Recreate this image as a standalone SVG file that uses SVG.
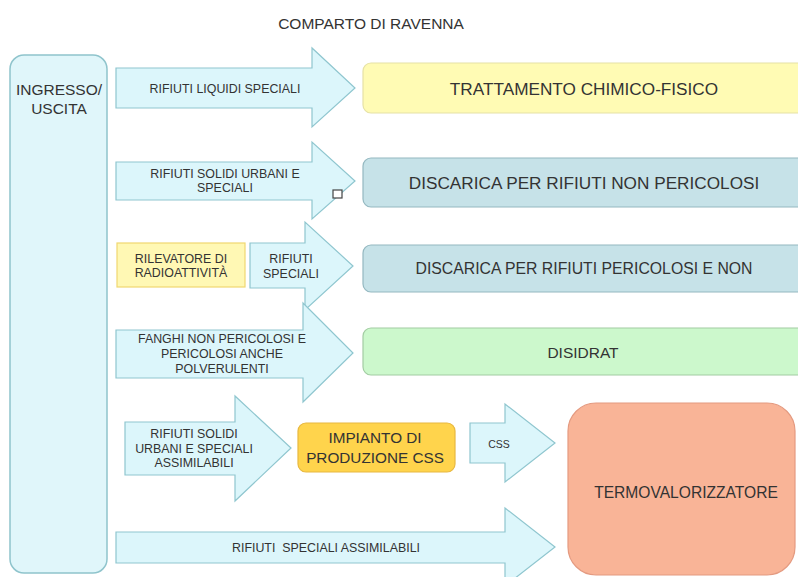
<svg xmlns="http://www.w3.org/2000/svg" width="798" height="577" viewBox="0 0 798 577">
<style>
text{font-family:"Liberation Sans",Arial,sans-serif;fill:#333;text-anchor:middle}
.arr{fill:#dcf6fb;stroke:#8fc6cf;stroke-width:1.2}
.lbl{font-size:12.4px}
.big{font-size:17.2px}
</style>
<rect width="798" height="577" fill="#fff"/>
<text x="371" y="29" style="font-size:15.5px">COMPARTO DI RAVENNA</text>

<g id="ingresso">
<rect x="10" y="55" width="97" height="518" rx="14" fill="#e0f6fa" stroke="#8fc4cc" stroke-width="1.5"/>
<text x="59" y="95" style="font-size:15.5px">INGRESSO/</text>
<text x="59" y="114" style="font-size:15.5px">USCITA</text>
</g>

<g id="trattamento">
<rect x="363" y="63" width="450" height="50" rx="8" fill="#fffbb4" stroke="#e6e2a6" stroke-width="1.2"/>
<text x="584" y="95" class="big">TRATTAMENTO CHIMICO-FISICO</text>
</g>
<g id="discarica-non">
<rect x="363" y="158" width="450" height="49" rx="8" fill="#c6e2e8" stroke="#94b8c0" stroke-width="1.2"/>
<text x="584" y="189" class="big">DISCARICA PER RIFIUTI NON PERICOLOSI</text>
</g>
<g id="discarica-per">
<rect x="363" y="245" width="450" height="47" rx="8" fill="#c6e2e8" stroke="#94b8c0" stroke-width="1.2"/>
<text x="584" y="274" style="font-size:15.8px">DISCARICA PER RIFIUTI PERICOLOSI E NON</text>
</g>
<g id="disidrat">
<rect x="363" y="328" width="450" height="47" rx="8" fill="#ccf8cc" stroke="#a2cca2" stroke-width="1.2"/>
<text x="583" y="358" style="font-size:15.5px">DISIDRAT</text>
</g>
<g id="rilevatore">
<rect x="117" y="243" width="128" height="44" fill="#fff8b4" stroke="#f0d870" stroke-width="1.2"/>
<text x="181" y="263" class="lbl">RILEVATORE DI</text>
<text x="181" y="277" class="lbl">RADIOATTIVITÀ</text>
</g>
<g id="impianto">
<rect x="298" y="423" width="157" height="49" rx="8" fill="#ffd44c" stroke="#e8b840" stroke-width="1.2"/>
<text x="375" y="443" style="font-size:15.3px">IMPIANTO DI</text>
<text x="375" y="463" style="font-size:15.3px">PRODUZIONE CSS</text>
</g>
<g id="termovalorizzatore">
<rect x="568" y="403" width="227" height="172" rx="28" fill="#f9b497" stroke="#e49a80" stroke-width="1.2"/>
<text x="686" y="498" style="font-size:15.6px">TERMOVALORIZZATORE</text>
</g>

<g id="connectors">
<g id="a1">
<polygon class="arr" points="116,68 312,68 312,48 355,88 312,127 312,108 116,108"/>
<text x="225" y="93" class="lbl">RIFIUTI LIQUIDI SPECIALI</text>
</g>
<g id="a2">
<polygon class="arr" points="116,162 312,162 312,142 355,181 312,219 312,200 116,200"/>
<text x="225" y="178" class="lbl">RIFIUTI SOLIDI URBANI E</text>
<text x="225" y="192" class="lbl">SPECIALI</text>
<rect x="333" y="190" width="9" height="8" fill="#fff" stroke="#444" stroke-width="1.2"/>
</g>
<g id="a3">
<polygon class="arr" points="250,243 305,243 305,222 353,266 305,310 305,288 250,288"/>
<text x="291" y="263" class="lbl">RIFIUTI</text>
<text x="291" y="278" class="lbl">SPECIALI</text>
</g>
<g id="a4">
<polygon class="arr" points="116,330 303,330 303,303 353,353 303,402 303,378 116,378"/>
<text x="222" y="343" class="lbl">FANGHI NON PERICOLOSI E</text>
<text x="222" y="358" class="lbl">PERICOLOSI ANCHE</text>
<text x="222" y="373" class="lbl">POLVERULENTI</text>
</g>
<g id="a5">
<polygon class="arr" points="125,422 235,422 235,396 291,448 235,501 235,475 125,475"/>
<text x="194" y="438" class="lbl">RIFIUTI SOLIDI</text>
<text x="194" y="453" class="lbl">URBANI E SPECIALI</text>
<text x="194" y="467" class="lbl">ASSIMILABILI</text>
</g>
<g id="a6">
<polygon class="arr" points="470,423 505,423 505,404 555,443 505,482 505,463 470,463"/>
<text x="499" y="448" style="font-size:10.5px">CSS</text>
</g>
<g id="a7">
<polygon class="arr" points="116,532 505,532 505,508 555,547 505,586 505,563 116,563"/>
<text x="326" y="552" class="lbl" xml:space="preserve">RIFIUTI  SPECIALI ASSIMILABILI</text>
</g>
</g>
</svg>
